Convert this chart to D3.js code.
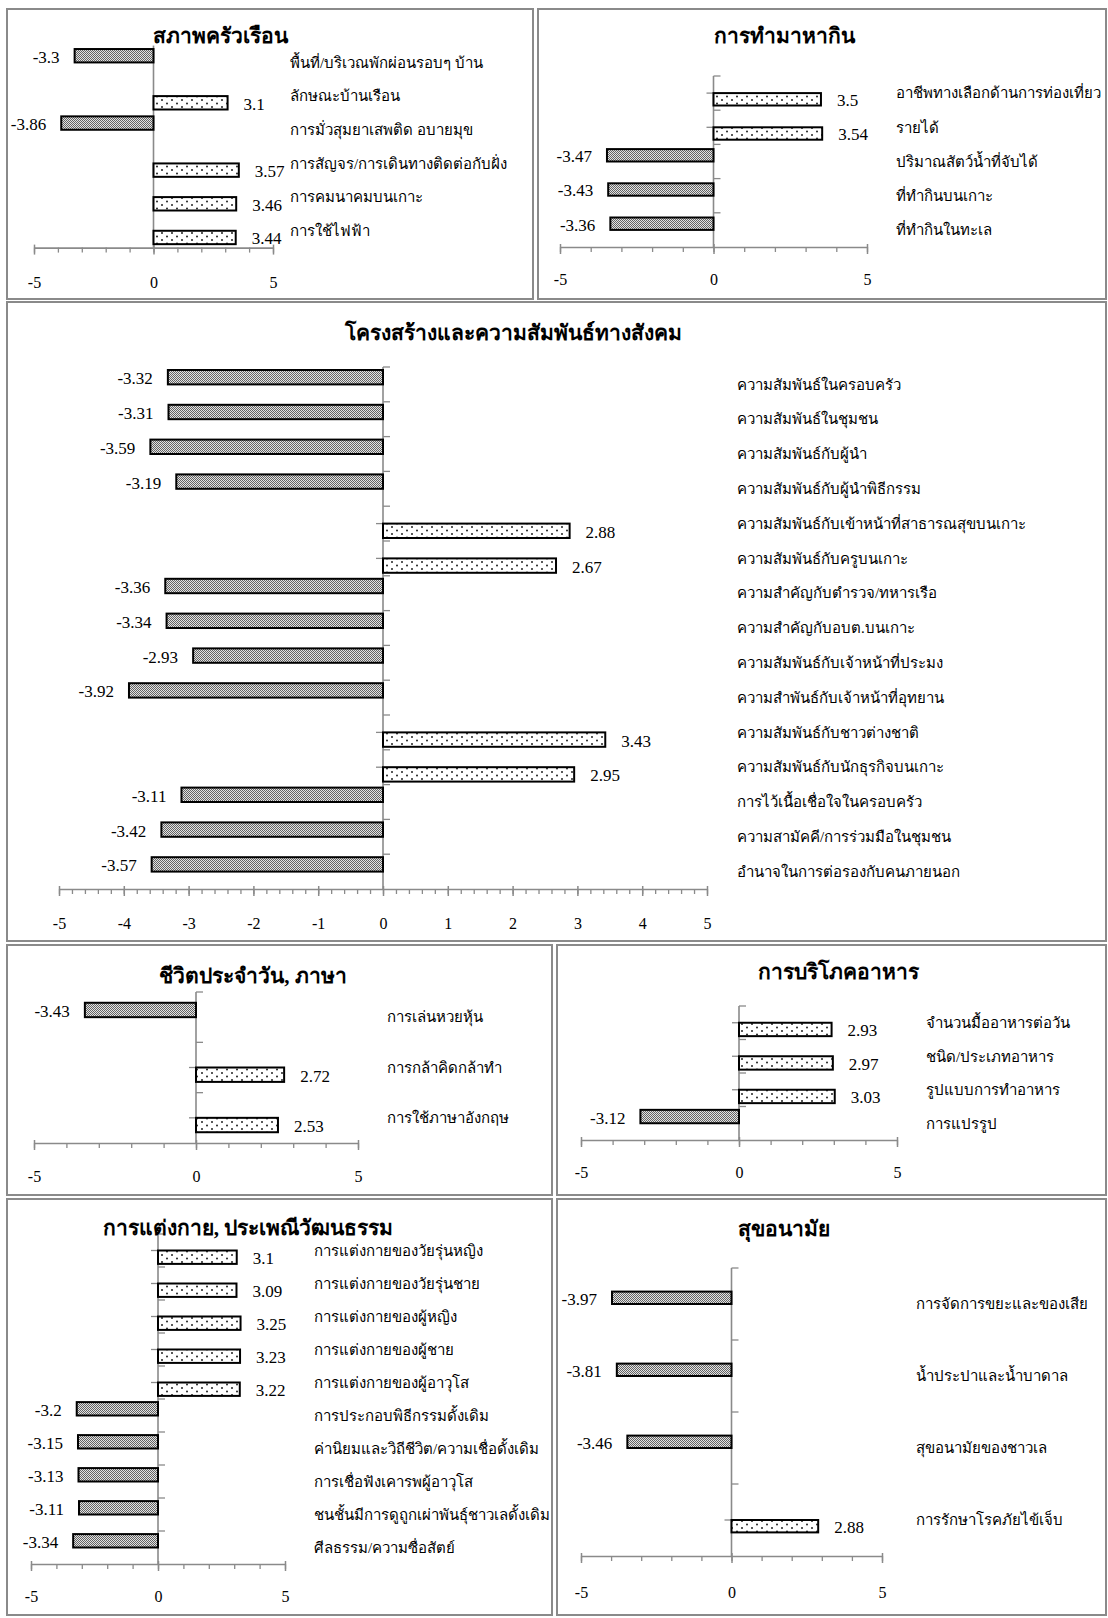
<!DOCTYPE html>
<html><head><meta charset="utf-8">
<script src="https://cdn.jsdelivr.net/npm/d3@7"></script>
<style>
body{margin:0;background:#fff}
svg{display:block}
text{font-family:"Liberation Serif","Times New Roman",serif;fill:#000}
</style>
</head><body>
<svg id="c" width="1108" height="1618"></svg>
<script>
// ---------- DATA ----------
const housingTitle = "สภาพครัวเรือน";
const housingCats = ["พื้นที่/บริเวณพักผ่อนรอบๆ บ้าน","ลักษณะบ้านเรือน","การมั่วสุมยาเสพติด อบายมุข","การสัญจร/การเดินทางติดต่อกับฝั่ง","การคมนาคมบนเกาะ","การใช้ไฟฟ้า"];
const housingVals = [-3.3, 3.1, -3.86, 3.57, 3.46, 3.44];

const livelihoodTitle = "การทำมาหากิน";
const livelihoodCats = ["อาชีพทางเลือกด้านการท่องเที่ยว","รายได้","ปริมาณสัตว์น้ำที่จับได้","ที่ทำกินบนเกาะ","ที่ทำกินในทะเล"];
const livelihoodVals = [3.5, 3.54, -3.47, -3.43, -3.36];

const socialTitle = "โครงสร้างและความสัมพันธ์ทางสังคม";
const socialCats = ["ความสัมพันธ์ในครอบครัว","ความสัมพันธ์ในชุมชน","ความสัมพันธ์กับผู้นำ","ความสัมพันธ์กับผู้นำพิธีกรรม","ความสัมพันธ์กับเข้าหน้าที่สาธารณสุขบนเกาะ","ความสัมพันธ์กับครูบนเกาะ","ความสำคัญกับตำรวจ/ทหารเรือ","ความสำคัญกับอบต.บนเกาะ","ความสัมพันธ์กับเจ้าหน้าที่ประมง","ความสำพันธ์กับเจ้าหน้าที่อุทยาน","ความสัมพันธ์กับชาวต่างชาติ","ความสัมพันธ์กับนักธุรกิจบนเกาะ","การไว้เนื้อเชื่อใจในครอบครัว","ความสามัคคี/การร่วมมือในชุมชน","อำนาจในการต่อรองกับคนภายนอก"];
const socialVals = [-3.32, -3.31, -3.59, -3.19, 2.88, 2.67, -3.36, -3.34, -2.93, -3.92, 3.43, 2.95, -3.11, -3.42, -3.57];

const dailyTitle = "ชีวิตประจำวัน, ภาษา";
const dailyCats = ["การเล่นหวยหุ้น","การกล้าคิดกล้าทำ","การใช้ภาษาอังกฤษ"];
const dailyVals = [-3.43, 2.72, 2.53];

const foodTitle = "การบริโภคอาหาร";
const foodCats = ["จำนวนมื้ออาหารต่อวัน","ชนิด/ประเภทอาหาร","รูปแบบการทำอาหาร","การแปรรูป"];
const foodVals = [2.93, 2.97, 3.03, -3.12];

const cultureTitle = "การแต่งกาย, ประเพณีวัฒนธรรม";
const cultureCats = ["การแต่งกายของวัยรุ่นหญิง","การแต่งกายของวัยรุ่นชาย","การแต่งกายของผู้หญิง","การแต่งกายของผู้ชาย","การแต่งกายของผู้อาวุโส","การประกอบพิธีกรรมดั้งเดิม","ค่านิยมและวิถีชีวิต/ความเชื่อดั้งเดิม","การเชื่อฟังเคารพผู้อาวุโส","ชนชั้นมีการดูถูกเผ่าพันธุ์ชาวเลดั้งเดิม","ศีลธรรม/ความซื่อสัตย์"];
const cultureVals = [3.1, 3.09, 3.25, 3.23, 3.22, -3.2, -3.15, -3.13, -3.11, -3.34];

const healthTitle = "สุขอนามัย";
const healthCats = ["การจัดการขยะและของเสีย","น้ำประปาและน้ำบาดาล","สุขอนามัยของชาวเล","การรักษาโรคภัยไข้เจ็บ"];
const healthVals = [-3.97, -3.81, -3.46, 2.88];

const ticksShort = [-5, 0, 5];
const ticksFull = [-5, -4, -3, -2, -1, 0, 1, 2, 3, 4, 5];
const xDomain = [-5, 5];

// ---------- LAYOUT ----------
const panels = [
  {title: housingTitle, cats: housingCats, vals: housingVals, ticks: ticksShort, minor: 1,
   box: [7, 9, 533, 299], tx: 220, ty: 36, xr: [34, 273], yr: [45.6, 247.6], h: 13.4, labelX: 290, tly: 282, yTicks: false},
  {title: livelihoodTitle, cats: livelihoodCats, vals: livelihoodVals, ticks: ticksShort, minor: 1,
   box: [538, 9, 1106, 299], tx: 784, ty: 36, xr: [560, 867], yr: [76, 247], h: 12.4, labelX: 896, tly: 279, yTicks: true},
  {title: socialTitle, cats: socialCats, vals: socialVals, ticks: ticksFull, minor: 0.2,
   box: [7, 302, 1106, 941], tx: 513, ty: 333, xr: [59, 707], yr: [367, 889], h: 14.4, labelX: 737, tly: 923, yTicks: true},
  {title: dailyTitle, cats: dailyCats, vals: dailyVals, ticks: ticksShort, minor: 1,
   box: [7, 945, 552, 1195], tx: 253, ty: 976, xr: [34, 358], yr: [992, 1143], h: 14.4, labelX: 387, tly: 1176, yTicks: true},
  {title: foodTitle, cats: foodCats, vals: foodVals, ticks: ticksShort, minor: 1,
   box: [557, 945, 1106, 1195], tx: 838, ty: 972, xr: [581, 897], yr: [1006, 1140], h: 13.4, labelX: 926, tly: 1172, yTicks: true},
  {title: cultureTitle, cats: cultureCats, vals: cultureVals, ticks: ticksShort, minor: 1,
   box: [7, 1199, 552, 1615], tx: 248, ty: 1228, xr: [31, 285], yr: [1234, 1564], h: 13.4, labelX: 314, tly: 1596, yTicks: true},
  {title: healthTitle, cats: healthCats, vals: healthVals, ticks: ticksShort, minor: 1,
   box: [557, 1199, 1106, 1615], tx: 784, ty: 1229, xr: [581, 882], yr: [1268, 1556], h: 12.4, labelX: 916, tly: 1592, yTicks: true}
];

const AXIS = "#8a8a8a";
const svg = d3.select("#c");
svg.append("rect").attr("width", 1108).attr("height", 1618).attr("fill", "#fff");

const defs = svg.append("defs");
const np = defs.append("pattern").attr("id", "negPat").attr("patternUnits", "userSpaceOnUse").attr("width", 2).attr("height", 2);
np.append("rect").attr("width", 2).attr("height", 2).attr("fill", "#e2e2e2");
np.append("rect").attr("width", 1).attr("height", 1).attr("fill", "#636363");
np.append("rect").attr("x", 1).attr("y", 1).attr("width", 1).attr("height", 1).attr("fill", "#636363");
const pp = defs.append("pattern").attr("id", "posPat").attr("patternUnits", "userSpaceOnUse").attr("width", 10).attr("height", 7);
pp.append("rect").attr("width", 10).attr("height", 7).attr("fill", "#fff");
pp.append("circle").attr("cx", 2).attr("cy", 2).attr("r", 1).attr("fill", "#222");
pp.append("circle").attr("cx", 7).attr("cy", 5.5).attr("r", 1).attr("fill", "#222");

panels.forEach(p => {
  const g = svg.append("g");
  g.append("rect")
    .attr("x", p.box[0]).attr("y", p.box[1])
    .attr("width", p.box[2] - p.box[0]).attr("height", p.box[3] - p.box[1])
    .attr("fill", "none").attr("stroke", AXIS).attr("stroke-width", 2);

  const x = d3.scaleLinear().domain(xDomain).range(p.xr);
  const y = d3.scaleBand().domain(p.cats).range(p.yr);
  const slot = d3.scaleBand().domain(["neg", "pos"]).range([-p.h, p.h]);
  const cy = c => y(c) + y.bandwidth() / 2;
  const data = p.cats.map((c, i) => ({c, v: p.vals[i]}));
  const axY = p.yr[1];

  // x axis minor ticks
  const minorVals = d3.range(0, Math.round(10 / p.minor) + 1).map(i => -5 + i * p.minor);
  const gm = g.append("g").attr("transform", `translate(0,${axY})`)
    .call(d3.axisBottom(x).tickValues(minorVals).tickSize(5).tickSizeOuter(0).tickFormat(""));
  gm.select(".domain").attr("stroke", AXIS).attr("stroke-width", 1.6);
  gm.selectAll(".tick line").attr("stroke", AXIS).attr("stroke-width", 1.3);
  // x axis major ticks with labels
  const gM = g.append("g").attr("transform", `translate(0,${axY})`)
    .call(d3.axisBottom(x).tickValues(p.ticks).tickSize(7).tickSizeOuter(0).tickFormat(d => String(d)));
  gM.select(".domain").remove();
  gM.selectAll(".tick line").attr("stroke", AXIS).attr("stroke-width", 1.5).attr("y1", -3);
  gM.selectAll(".tick text").attr("y", p.tly - axY).attr("dy", "0.35em")
    .style("font-size", "16px").style("font-family", '"Liberation Serif",serif').attr("fill", "#000");

  // vertical axis at 0
  g.append("line").attr("x1", x(0)).attr("x2", x(0)).attr("y1", p.yr[0]).attr("y2", p.yr[1])
    .attr("stroke", AXIS).attr("stroke-width", 1.6);
  if (p.yTicks) {
    g.selectAll(".rt").data(p.cats).enter().append("line")
      .attr("x1", x(0)).attr("x2", x(0) + 7)
      .attr("y1", d => y(d)).attr("y2", d => y(d))
      .attr("stroke", AXIS).attr("stroke-width", 1.3);
    g.selectAll(".lt").data(data.filter(d => d.v > 0)).enter().append("line")
      .attr("x1", x(0) - 7).attr("x2", x(0))
      .attr("y1", d => cy(d.c)).attr("y2", d => cy(d.c))
      .attr("stroke", AXIS).attr("stroke-width", 1.3);
  }

  // bars
  g.selectAll(".bar").data(data).enter().append("rect")
    .attr("x", d => Math.min(x(0), x(d.v)))
    .attr("width", d => Math.abs(x(d.v) - x(0)))
    .attr("y", d => cy(d.c) + slot(d.v < 0 ? "neg" : "pos"))
    .attr("height", slot.bandwidth())
    .attr("fill", d => d.v < 0 ? "url(#negPat)" : "url(#posPat)")
    .attr("stroke", "#000").attr("stroke-width", 2);

  // value labels
  g.selectAll(".val").data(data).enter().append("text")
    .attr("x", d => d.v < 0 ? x(d.v) - 15 : x(d.v) + 16)
    .attr("y", d => cy(d.c) + slot(d.v < 0 ? "neg" : "pos") + slot.bandwidth() / 2 + 1)
    .attr("dy", "0.35em")
    .attr("text-anchor", d => d.v < 0 ? "end" : "start")
    .style("font-size", "17px")
    .text(d => String(d.v));

  // category labels
  g.selectAll(".cat").data(p.cats).enter().append("text")
    .attr("x", p.labelX).attr("y", d => cy(d)).attr("dy", "0.35em")
    .style("font-size", "15px")
    .text(d => d);

  // title
  g.append("text").attr("x", p.tx).attr("y", p.ty).attr("dy", "0.35em")
    .attr("text-anchor", "middle")
    .style("font-size", "21px").style("font-weight", "bold")
    .text(p.title);
});
</script>
</body></html>
